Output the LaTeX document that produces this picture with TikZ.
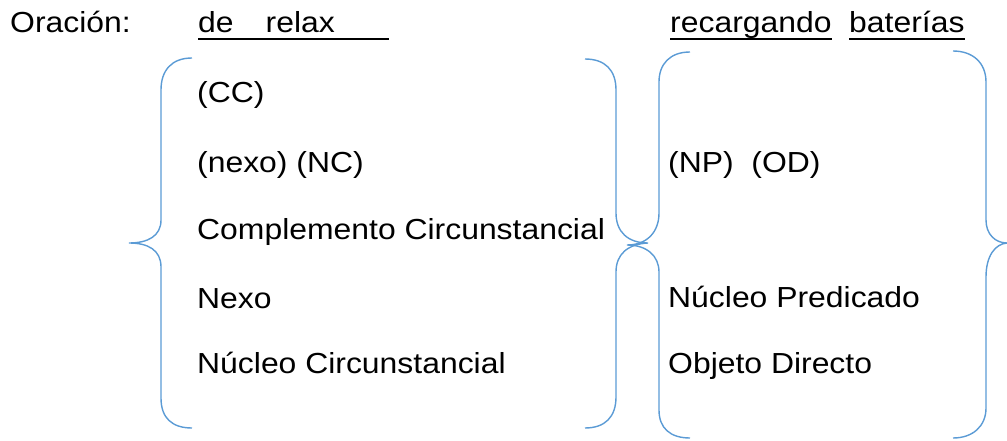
\documentclass[tikz,border=0pt]{standalone}
\usepackage{fontspec}
\setmainfont{Liberation Sans}[FakeStretch=1.1]
\usepackage{tikz}
\definecolor{braceblue}{HTML}{5B9BD5}
\tikzset{
  txt/.style={anchor=base west, inner sep=0pt, font=\fontsize{29}{31}\selectfont},
  brace/.style={braceblue, line width=1.4pt},
  uline/.style={line width=2.6pt}
}

\begin{document}
\begin{tikzpicture}[x=1pt,y=-1pt]
  \useasboundingbox (0,0) rectangle (1007,441);
\node[txt] (orac) at (10,33) {Oración:};
\node[txt] (relax) at (198,33) {de\hspace{32pt}relax\hspace{54pt}\null};
\node[txt] (recarg) at (670,33) {recargando};
\node[txt] (bater) at (849,33) {baterías};
\draw[uline] ([yshift=-6pt]relax.base west) -- ([yshift=-6pt]relax.base east);
\draw[uline] ([yshift=-6pt]recarg.base west) -- ([yshift=-6pt]recarg.base east);
\draw[uline] ([yshift=-6pt]bater.base west) -- ([yshift=-6pt]bater.base east);
\node[txt] (cc) at (197,103) {(CC)};
\node[txt] (nexonc) at (197,173) {(nexo) (NC)};
\node[txt] (compl) at (197,239) {Complemento Circunstancial};
\node[txt] (nexo) at (197,308) {Nexo};
\node[txt] (nucirc) at (197,373) {Núcleo Circunstancial};
\node[txt] (npod) at (668,173) {(NP)\ \ (OD)};
\node[txt] (nupred) at (668,307) {Núcleo Predicado};
\node[txt] (objdir) at (668,373) {Objeto Directo};
\draw[brace] (192,58) .. controls (172,58) and (161,70) .. (161,90) -- (161,220)
  .. controls (161,236) and (148,243) .. (129,243)
  .. controls (148,243) and (161,250) .. (161,267) -- (161,398)
  .. controls (161,418) and (172,428) .. (192,428);
\draw[brace] (585,59) .. controls (605,59) and (616,70) .. (616,90) -- (616,213)
  .. controls (616,232) and (628,243) .. (648,243)
  .. controls (628,244) and (616,254) .. (616,272) -- (616,397)
  .. controls (616,417) and (605,428) .. (585,428);
\draw[brace] (690,52) .. controls (670,52) and (659,64) .. (659,82) -- (659,213)
  .. controls (659,232) and (647,245) .. (627,245)
  .. controls (647,245) and (659,256) .. (659,272) -- (659,410)
  .. controls (659,428) and (670,438) .. (690,438);
\draw[brace] (953,51) .. controls (973,51) and (986,63) .. (986,82) -- (986,220)
  .. controls (986,234) and (995,243) .. (1007,243)
  .. controls (995,244) and (986,256) .. (986,277) -- (986,408)
  .. controls (986,426) and (973,438) .. (953,438);

\end{tikzpicture}
\end{document}
